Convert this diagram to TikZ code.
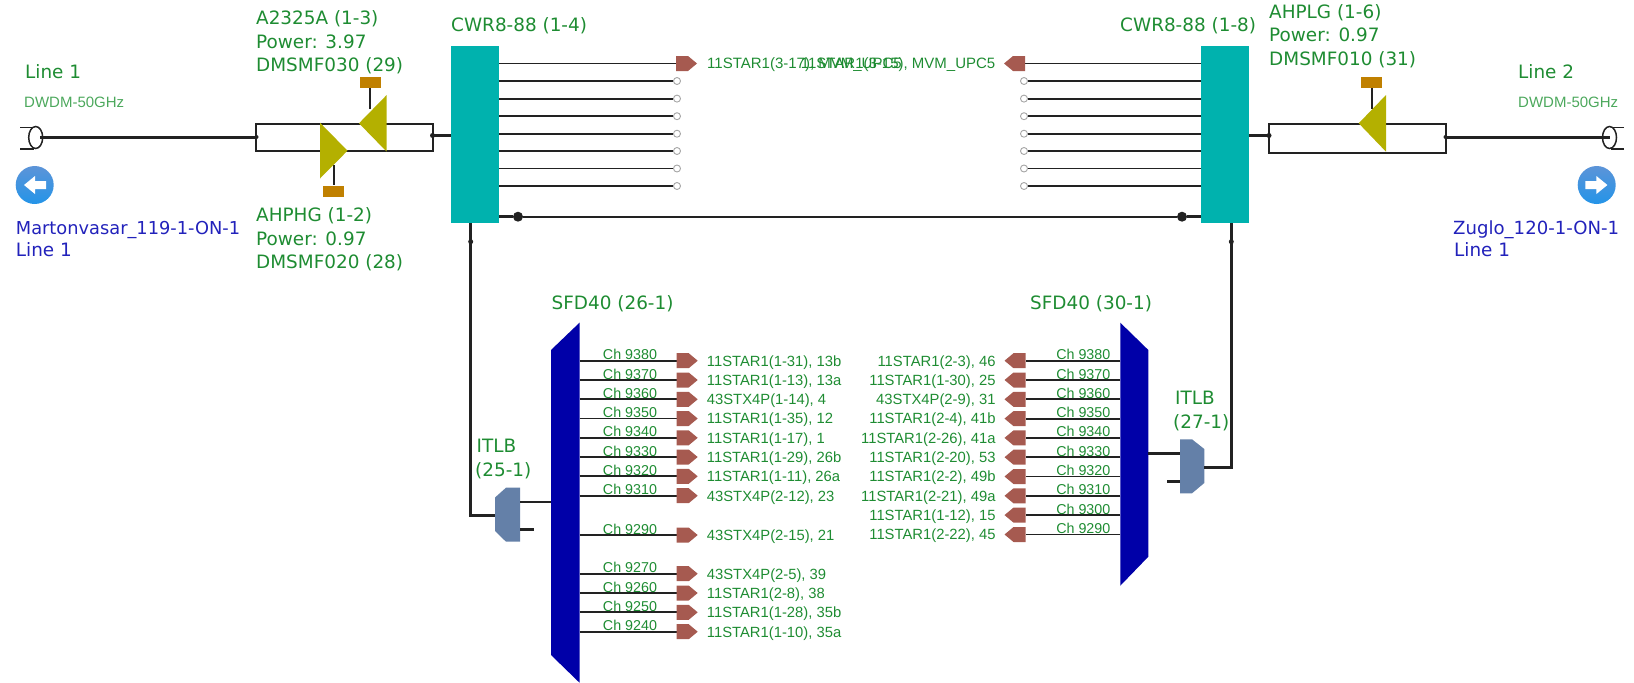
\documentclass[tikz,border=0pt]{standalone}
\usepackage{fontspec}
\usetikzlibrary{shapes.geometric}
\setmainfont{Liberation Sans}
\newfontfamily\vfont{DejaVu Sans}
\definecolor{teal1}{HTML}{00B2AE}
\definecolor{navy1}{HTML}{0000A8}
\definecolor{olive1}{HTML}{B4B000}
\definecolor{ochre1}{HTML}{C08000}
\definecolor{port1}{HTML}{A65A50}
\definecolor{itlb1}{HTML}{6480A8}
\definecolor{green1}{HTML}{1E8C32}
\definecolor{green2}{HTML}{4CA85C}
\definecolor{blue1}{HTML}{2222BB}
\definecolor{wire1}{HTML}{222222}
\definecolor{icontop}{HTML}{5C94D8}
\definecolor{iconmid}{HTML}{0848A8}
\definecolor{iconlow}{HTML}{2494E8}
\tikzset{
  big/.style={font=\vfont\fontsize{18.4}{20}\selectfont,text=green1,inner sep=0pt,anchor=base west},
  bigblue/.style={big,text=blue1},
  small/.style={font=\fontsize{14.8}{16}\selectfont,text=green1,inner sep=0pt,anchor=base west},
  smallr/.style={small,anchor=base east},
  chan/.style={font=\fontsize{14.3}{16}\selectfont,text=green1,inner sep=0pt,anchor=base},
  dwdm/.style={font=\fontsize{15}{16}\selectfont,text=green2,inner sep=0pt,anchor=base west},
  wire/.style={draw=wire1,line width=1.9pt},
  thickwire/.style={draw=wire1,line width=3pt},
  rackbox/.style={fill=teal1,draw=none,minimum width=48pt,minimum height=177pt,inner sep=0pt},
  padbox/.style={fill=ochre1,draw=none,minimum width=21pt,minimum height=11pt,inner sep=0pt},
  jdot/.style={circle,fill=wire1,minimum size=10pt,inner sep=0pt},
  tinydot/.style={circle,fill=wire1,minimum size=5pt,inner sep=0pt},
  endring/.style={circle,draw=black!35,fill=white,line width=0.9pt,minimum size=7pt,inner sep=0pt},
  iconball/.style={top color=icontop,middle color=iconmid,bottom color=iconlow},
  portr/.pic={\fill[port1] (0,-7.5)--(12,-7.5)--(21,0)--(12,7.5)--(0,7.5)--cycle;},
  portl/.pic={\fill[port1] (0,-7.5)--(-12,-7.5)--(-21,0)--(-12,7.5)--(0,7.5)--cycle;},
}
\begin{document}
\begin{tikzpicture}[x=1pt,y=-1pt]
\useasboundingbox (0,0) rectangle (1634,683);
% ---- racks
\node[rackbox] (cwrL) at (475,134.5) {};
\node[rackbox] (cwrR) at (1225,134.5) {};
% ---- top rows
\foreach \i/\y in {1/63.5,2/81,3/98.6,4/116.2,5/133.7,6/151,7/168.5,8/186}{
  \coordinate (al\i) at (499,\y);
  \coordinate (ar\i) at (1201,\y);
}
\foreach \i/\y in {2/81,3/98.6,4/116.2,5/133.7,6/151,7/168.5,8/186}{
  \node[endring] (el\i) at (677,\y) {};
  \node[endring] (er\i) at (1024,\y) {};
  \draw[wire] (al\i) -- (el\i);
  \draw[wire] (ar\i) -- (er\i);
}
\coordinate (pl1) at (676,63.5);
\coordinate (pr1) at (1025,63.5);
\draw[wire] (al1) -- (pl1);
\draw[wire] (ar1) -- (pr1);
\pic at (pl1) {portr};
\pic at (pr1) {portl};
\node[small,font=\fontsize{15}{16}\selectfont] (tl1) at (707,68.8) {11STAR1(3-17), MVM\_UPC5};
\node[small,font=\fontsize{15}{16}\selectfont,anchor=base east] (tr1) at (995.5,68.8) {11STAR1(3-15), MVM\_UPC5};
% bottom link
\node[jdot] (jl) at (518,216.7) {};
\node[jdot] (jr) at (1182,216.7) {};
\coordinate (cl) at (499,216.7);
\coordinate (cr) at (1201,216.7);
\draw[thickwire] (cl) -- (jl);
\draw[thickwire] (jr) -- (cr);
\draw[wire] (jl) -- (jr);
% ---- left line
\coordinate (ll) at (40,137);
\node[draw=wire1,line width=1.9pt,minimum width=176.5pt,minimum height=27.5pt,inner sep=0pt] (ampL) at (344.3,137.4) {};
\draw[thickwire] (ll) -- (ampL.west |- ll);
\coordinate (stubL) at (432.5,135.5);
\draw[thickwire] (stubL) -- (cwrL.west |- stubL);
\node[tinydot] at (stubL) {};
\node[tinydot,minimum size=4pt] at (256.5,137) {};
\node[draw=wire1,line width=1.5pt,ellipse,minimum width=14pt,minimum height=22pt,inner sep=0pt] at (35.7,137.5) {};
\draw[line width=1.5pt,draw=wire1] (20,127.3) -- (34,127.3) (20,149) -- (34,149);
% amp lower
\node[padbox] (padB) at (333.7,191) {};
\coordinate (stemB) at (333.7,165);
\draw[wire] (stemB) -- (padB);
\fill[olive1] (320,122.7) -- (347.5,150.7) -- (320,178.5) -- cycle;
% amp upper
\node[padbox] (padT) at (370.3,82.5) {};
\coordinate (stemT) at (370.3,109);
\draw[wire] (stemT) -- (padT);
\fill[olive1] (386.7,95) -- (359,123.3) -- (386.7,151.7) -- cycle;
% ---- right line
\node[draw=wire1,line width=1.9pt,minimum width=176.7pt,minimum height=29.3pt,inner sep=0pt] (ampR) at (1357.3,138.3) {};
\coordinate (rr) at (1610,137);
\draw[thickwire] (ampR.east |- rr) -- (rr);
\coordinate (stubR) at (1269,135.5);
\draw[thickwire] (cwrR.east |- stubR) -- (stubR);
\node[tinydot] at (stubR) {};
\node[tinydot,minimum size=4pt] at (1445.5,137) {};
\node[draw=wire1,line width=1.5pt,ellipse,minimum width=14pt,minimum height=22pt,inner sep=0pt] at (1609.5,137.5) {};
\draw[line width=1.5pt,draw=wire1] (1624,127.3) -- (1611,127.3) (1624,149) -- (1611,149);
\node[padbox] (padR) at (1371.7,82.5) {};
\coordinate (stemR) at (1371.7,109);
\draw[wire] (stemR) -- (padR);
\fill[olive1] (1386,95) -- (1358.7,123.3) -- (1386,151.7) -- cycle;
% ---- icons
\shade[iconball] (34.7,185) circle (19);
\fill[white] (24,185) -- (35,176) -- (35,181) -- (46,181) -- (46,189) -- (35,189) -- (35,194) -- cycle;
\shade[iconball] (1596.7,185) circle (19);
\fill[white] (1607.4,185) -- (1596.4,176) -- (1596.4,181) -- (1585.4,181) -- (1585.4,189) -- (1596.4,189) -- (1596.4,194) -- cycle;
% ---- SFD left
\fill[navy1] (579.5,322.7) -- (551,350) -- (551,655) -- (579.5,682.7) -- cycle;
\foreach \i/\y/\ch/\t in {1/360.7/9380/{11STAR1(1-31), 13b},2/380/9370/{11STAR1(1-13), 13a},3/399.3/9360/{43STX4P(1-14), 4},4/418.5/9350/{11STAR1(1-35), 12},5/437.8/9340/{11STAR1(1-17), 1},6/457/9330/{11STAR1(1-29), 26b},7/476.3/9320/{11STAR1(1-11), 26a},8/495.7/9310/{43STX4P(2-12), 23},9/535/9290/{43STX4P(2-15), 21},10/573.7/9270/{43STX4P(2-5), 39},11/593/9260/{11STAR1(2-8), 38},12/612.3/9250/{11STAR1(1-28), 35b},13/631.7/9240/{11STAR1(1-10), 35a}}{
  \coordinate (sl\i) at (579.5,\y);
  \coordinate (pt\i) at (676.7,\y);
  \draw[wire] (sl\i) -- (pt\i);
  \pic at (pt\i) {portr};
  \node[chan] (chl\i) at (630,\y-1) {Ch \ch};
  \node[small] (txl\i) at (706.7,\y+5.3) {\t};
}
% ---- SFD right
\fill[navy1] (1120.3,322.7) -- (1148.3,350) -- (1148.3,556.7) -- (1120.3,585.7) -- cycle;
\foreach \i/\y/\ch/\t in {1/360.7/9380/{11STAR1(2-3), 46},2/380/9370/{11STAR1(1-30), 25},3/399.3/9360/{43STX4P(2-9), 31},4/418.6/9350/{11STAR1(2-4), 41b},5/437.9/9340/{11STAR1(2-26), 41a},6/457.2/9330/{11STAR1(2-20), 53},7/476.5/9320/{11STAR1(2-2), 49b},8/495.8/9310/{11STAR1(2-21), 49a},9/515.1/9300/{11STAR1(1-12), 15},10/534.5/9290/{11STAR1(2-22), 45}}{
  \coordinate (sr\i) at (1120.3,\y);
  \coordinate (qt\i) at (1025.5,\y);
  \draw[wire] (sr\i) -- (qt\i);
  \pic at (qt\i) {portl};
  \node[chan] (chr\i) at (1083.3,\y-1) {Ch \ch};
  \node[smallr] (txr\i) at (995.7,\y+5.3) {\t};
}
% ---- ITLB left
\fill[itlb1] (520,487.7) -- (506,487.7) -- (495,497.5) -- (495,531) -- (506,541.7) -- (520,541.7) -- cycle;
\coordinate (itlA) at (520,501.7);
\coordinate (itlB) at (520,529);
\coordinate (itlC) at (534,529);
\coordinate (itlD) at (495,515.3);
\coordinate (cwrLb) at (470.7,223);
\coordinate (sfdLa) at (551,501.7);
\draw[wire,line width=2.4pt] (itlA) -- (sfdLa);
\draw[thickwire] (itlB) -- (itlC);
\draw[thickwire,line join=miter] (cwrLb) -- (cwrLb |- itlD) -- (itlD);
\node[tinydot,minimum size=5pt] at (470.7,241.7) {};
% ---- ITLB right
\fill[itlb1] (1180,439.3) -- (1192,439.3) -- (1204.3,449) -- (1204.3,483) -- (1192,493.3) -- (1180,493.3) -- cycle;
\coordinate (itrA) at (1180,453.3);
\coordinate (sfdRa) at (1148.3,453.3);
\coordinate (itrB) at (1180,481);
\coordinate (itrC) at (1167.3,481);
\coordinate (itrD) at (1204.3,467);
\coordinate (cwrRb) at (1231.3,223);
\draw[wire,line width=2.4pt] (sfdRa) -- (itrA);
\draw[thickwire] (itrB) -- (itrC);
\draw[thickwire,line join=miter] (cwrRb) -- (cwrRb |- itrD) -- (itrD);
\node[tinydot,minimum size=5pt] at (1231.3,241.7) {};
% ---- large labels
\node[big] (a1) at (256,24.5) {A2325A (1-3)};
\node[big] (a2) at (256,48) {Power: 3.97};
\node[big] (a3) at (256,71) {DMSMF030 (29)};
\node[big] (b1) at (256,221.5) {AHPHG (1-2)};
\node[big] (b2) at (256,245) {Power: 0.97};
\node[big] (b3) at (256,268) {DMSMF020 (28)};
\node[big] (c1) at (451,31.5) {CWR8-88 (1-4)};
\node[big] (c2) at (1120,31.5) {CWR8-88 (1-8)};
\node[big] (d1) at (1269,18.5) {AHPLG (1-6)};
\node[big] (d2) at (1269,41.5) {Power: 0.97};
\node[big] (d3) at (1269,65.5) {DMSMF010 (31)};
\node[big] (e1) at (25,78.8) {Line 1};
\node[big] (e2) at (1518,78.8) {Line 2};
\node[dwdm] (f1) at (24,107.3) {DWDM-50GHz};
\node[dwdm] (f2) at (1518,107.3) {DWDM-50GHz};
\node[bigblue,font=\vfont\fontsize{17.8}{20}\selectfont] (g1) at (15.7,234) {Martonvasar\_119-1-ON-1};
\node[bigblue] (g2) at (15.7,256.5) {Line 1};
\node[bigblue,font=\vfont\fontsize{18.1}{20}\selectfont] (h1) at (1453,234) {Zuglo\_120-1-ON-1};
\node[bigblue] (h2) at (1454,256.5) {Line 1};
\node[big] (s1) at (551.5,309) {SFD40 (26-1)};
\node[big] (s2) at (1030,309) {SFD40 (30-1)};
\node[big] (i1) at (476.5,452.5) {ITLB};
\node[big] (i2) at (475,476.5) {(25-1)};
\node[big] (j1) at (1175,404) {ITLB};
\node[big] (j2) at (1173,428) {(27-1)};
\end{tikzpicture}
\end{document}
